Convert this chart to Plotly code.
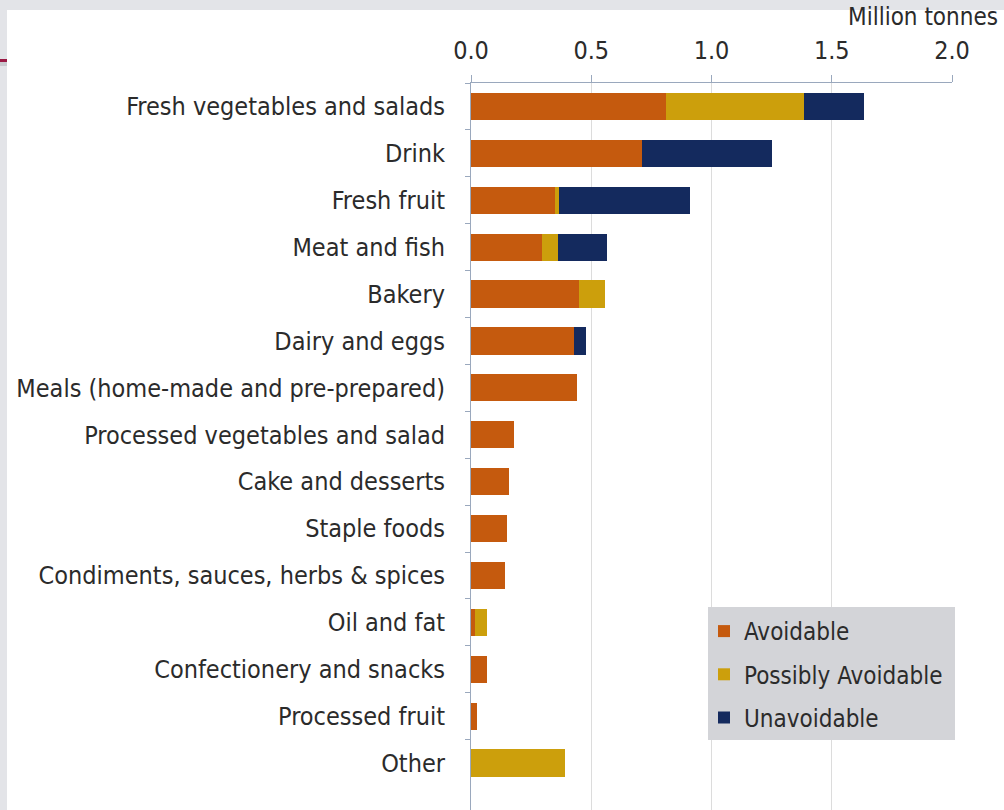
import plotly.graph_objects as go

categories = [
    "Fresh vegetables and salads", "Drink", "Fresh fruit", "Meat and fish",
    "Bakery", "Dairy and eggs", "Meals (home-made and pre-prepared)",
    "Processed vegetables and salad", "Cake and desserts", "Staple foods",
    "Condiments, sauces, herbs & spices", "Oil and fat",
    "Confectionery and snacks", "Processed fruit", "Other",
]
avoidable = [0.81, 0.71, 0.35, 0.295, 0.447, 0.427, 0.44, 0.18, 0.158, 0.15,
             0.142, 0.017, 0.065, 0.025, 0.0]
possibly_avoidable = [0.575, 0.0, 0.017, 0.068, 0.11, 0.0, 0.0, 0.0, 0.0, 0.0,
                      0.0, 0.05, 0.0, 0.0, 0.39]
unavoidable = [0.25, 0.54, 0.543, 0.202, 0.0, 0.053, 0.0, 0.0, 0.0, 0.0,
               0.0, 0.0, 0.0, 0.0, 0.0]
series_names = ["Avoidable", "Possibly Avoidable", "Unavoidable"]
x_ticks = [0.0, 0.5, 1.0, 1.5, 2.0]
x_tick_labels = ["0.0", "0.5", "1.0", "1.5", "2.0"]

colors = ["#c55a0e", "#cc9f0c", "#142a5e"]
FONT = "DejaVu Sans Condensed, DejaVu Sans, sans-serif"
TXT = "#2b2b2b"
FS = 25

W, H = 1004, 810
L, R, T, B = 471, 952, 83, 810


def px(p):
    return (p - L) / (R - L)


def py(p):
    return (B - p) / (B - T)


fig = go.Figure()
for name, vals, col in zip(series_names, [avoidable, possibly_avoidable, unavoidable], colors):
    fig.add_trace(go.Bar(
        y=categories, x=vals, name=name, orientation="h",
        marker=dict(color=col, line=dict(width=0)),
        legendgroup=name,
    ))

shapes = [
    # outer grey frame (top band and left band)
    dict(type="rect", xref="paper", yref="paper", x0=px(0), x1=px(W), y0=py(10), y1=py(0),
         fillcolor="#e3e4e8", line=dict(width=0), layer="below"),
    dict(type="rect", xref="paper", yref="paper", x0=px(0), x1=px(7), y0=py(H), y1=py(0),
         fillcolor="#e3e4e8", line=dict(width=0), layer="below"),
    dict(type="rect", xref="paper", yref="paper", x0=px(0), x1=px(7), y0=py(62), y1=py(59),
         fillcolor="#9b1a45", line=dict(width=0), layer="above"),
    dict(type="rect", xref="paper", yref="paper", x0=px(0), x1=px(7), y0=py(66), y1=py(62),
         fillcolor="#c9cacf", line=dict(width=0), layer="above"),
    # legend box
    dict(type="rect", xref="paper", yref="paper", x0=px(708), x1=px(955), y0=py(740), y1=py(607),
         fillcolor="#d3d4d8", line=dict(width=0), layer="above"),
]

fig.update_layout(
    width=W, height=H,
    margin=dict(l=L, r=W - R, t=T, b=H - B),
    paper_bgcolor="white", plot_bgcolor="white",
    barmode="stack", bargap=0.42,
    font=dict(family=FONT, size=FS, color=TXT),
    shapes=shapes,
    showlegend=True,
    legend=dict(
        x=px(704), y=py(609), xanchor="left", yanchor="top",
        bgcolor="rgba(0,0,0,0)", borderwidth=0,
        font=dict(family=FONT, size=FS - 1, color=TXT),
        traceorder="grouped", tracegroupgap=9, itemwidth=30,
    ),
    xaxis=dict(
        side="top", range=[0, 2.0], tickvals=x_ticks, ticktext=x_tick_labels,
        showgrid=True, gridcolor="#dcdcdc", gridwidth=1,
        showline=True, linecolor="#9aa8bd", linewidth=1,
        ticks="outside", ticklen=7, tickcolor="#9aa8bd",
        ticklabelstandoff=6, zeroline=False,
        tickfont=dict(family=FONT, size=FS, color=TXT),
    ),
    yaxis=dict(
        range=[15.0, -0.5], showgrid=False,
        showline=True, linecolor="#9aa8bd", linewidth=1,
        ticks="outside", ticklen=5, tickcolor="#9aa8bd", tickson="boundaries",
        ticklabelstandoff=20,
        tickfont=dict(family=FONT, size=FS, color=TXT),
    ),
    annotations=[
        dict(text="Million tonnes", xref="paper", yref="paper", x=px(1000), y=py(17),
             xanchor="right", yanchor="middle", showarrow=False,
             font=dict(family=FONT, size=FS - 1, color=TXT)),
    ],
)

fig.write_html("out.html")
